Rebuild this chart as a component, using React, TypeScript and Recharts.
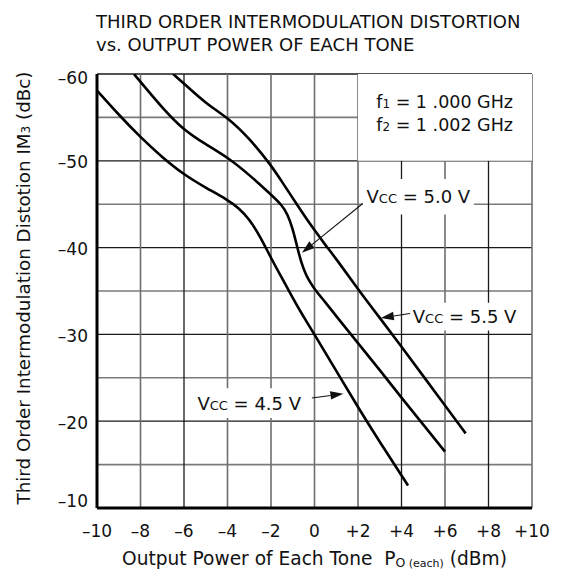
import React from 'react';
import {
  LineChart,
  Line,
  XAxis,
  YAxis,
  CartesianGrid,
  ReferenceArea,
  ReferenceLine,
} from 'recharts';

const FONT = '"DejaVu Sans", Verdana, sans-serif';

// ---- text ----
const titleLines = ['THIRD ORDER INTERMODULATION DISTORTION', 'vs. OUTPUT POWER OF EACH TONE'];

// ---- axes ----
const xTicks = [-10, -8, -6, -4, -2, 0, 2, 4, 6, 8, 10];
const yTicks = [-60, -55, -50, -45, -40, -35, -30, -25, -20, -15, -10];

// ---- series (output power per tone, dBm -> IM3, dBc) ----
const vcc45Power = [-10, -9, -8, -7, -6, -5, -4, -3.5, -3, -2.5, -2, -1.5, -1, -0.5, 0, 1, 2, 3, 4.3];
const vcc45IM3 = [-58.1, -55.3, -52.7, -50.4, -48.4, -46.9, -45.5, -44.6, -43.3, -41.3, -38.8, -36.5, -34.2, -32.0, -30.0, -25.8, -21.6, -17.6, -12.6];

const vcc50Power = [-8.3, -8, -7, -6, -5, -4, -3, -2, -1.5, -1.25, -1, -0.8, -0.6, -0.4, -0.2, 0, 0.5, 1, 2, 3, 4, 5, 6];
const vcc50IM3 = [-60, -59.1, -56.1, -53.5, -51.9, -50.4, -48.4, -46.1, -44.9, -43.9, -42.2, -40.1, -38.2, -36.9, -36.0, -35.2, -33.7, -32.1, -29.0, -25.9, -22.7, -19.6, -16.5];

const vcc55Power = [-6.5, -6, -5, -4, -3, -2, -1.5, -1, -0.5, 0, 0.5, 1, 2, 3, 4, 5, 6, 6.95];
const vcc55IM3 = [-60, -58.9, -56.6, -55.0, -52.6, -49.5, -47.6, -45.7, -43.8, -42.0, -40.3, -38.7, -35.2, -31.9, -28.6, -25.2, -21.8, -18.6];

// ---- annotations (data coordinates) ----
const freqLines = [
  { sub: '1', rest: ' = 1 .000 GHz' },
  { sub: '2', rest: ' = 1 .002 GHz' },
];
const freqBox = { x1: 2, x2: 10, y1: -60, y2: -50 };

const vccNotes = [
  { value: '5.0 V', box: { x1: 2.22, x2: 7.33, y1: -47.9, y2: -43.8 }, from: { x: 2.22, y: -45.08 }, to: { x: -0.58, y: -39.4 } },
  { value: '5.5 V', box: { x1: 4.35, x2: 9.45, y1: -33.65, y2: -30.45 }, from: { x: 4.39, y: -32.4 }, to: { x: 3.05, y: -31.9 } },
  { value: '4.5 V', box: { x1: -5.62, x2: -0.38, y1: -23.8, y2: -20.37 }, from: { x: -0.12, y: -22.67 }, to: { x: 1.33, y: -23.17 } },
];

const darkVerticals = [-6, 4, 8];

const toRows = (px: number[], py: number[]) => px.map((p, i) => ({ p, im: py[i] }));
const series = [
  { name: 'Vcc = 4.5 V', data: toRows(vcc45Power, vcc45IM3) },
  { name: 'Vcc = 5.0 V', data: toRows(vcc50Power, vcc50IM3) },
  { name: 'Vcc = 5.5 V', data: toRows(vcc55Power, vcc55IM3) },
];

const fmt = (v: number) => (v > 0 ? `+${v}` : v < 0 ? `\u2013${Math.abs(v)}` : '0');

const XTick = (props: any) => {
  const { x, y, payload } = props;
  return (
    <text x={x} y={y + 29} textAnchor="middle" fontSize={17} fontFamily={FONT} fill="#111">
      {fmt(payload.value)}
    </text>
  );
};

const YTick = (props: any) => {
  const { x, y, payload } = props;
  const v = payload.value;
  if (v % 10 !== 0) return <g />;
  const dy = v === -60 ? 9.7 : v === -10 ? -1.3 : 7.5;
  return (
    <text x={x - 9} y={y + dy} textAnchor="end" fontSize={17} fontFamily={FONT} fill="#111">
      {fmt(v)}
    </text>
  );
};

const hLine = (p: any) => (
  <line
    key={`h-${p.index}`}
    x1={p.x1}
    y1={p.y1}
    x2={p.x2}
    y2={p.y2}
    stroke={p.index % 2 === 0 ? '#1a1a1a' : '#7a7a7a'}
    strokeWidth={p.index % 2 === 0 ? 1.3 : 1.6}
  />
);

const vLine = (p: any) => {
  const dark = darkVerticals.includes(xTicks[p.index]);
  return (
    <line
      key={`v-${p.index}`}
      x1={p.x1}
      y1={p.y1}
      x2={p.x2}
      y2={p.y2}
      stroke={dark ? '#1a1a1a' : '#6e6e6e'}
      strokeWidth={dark ? 1.3 : 1.6}
    />
  );
};

const arrowShape = (p: any) => {
  const { x1, y1, x2, y2 } = p;
  const dx = x2 - x1;
  const dy = y2 - y1;
  const len = Math.sqrt(dx * dx + dy * dy) || 1;
  const ux = dx / len;
  const uy = dy / len;
  const hl = 13;
  const hw = 4.2;
  const bx = x2 - ux * hl;
  const by = y2 - uy * hl;
  const pts = `${x2},${y2} ${bx - uy * hw},${by + ux * hw} ${bx + uy * hw},${by - ux * hw}`;
  return (
    <g>
      <line x1={x1} y1={y1} x2={bx} y2={by} stroke="#111" strokeWidth={1.1} />
      <polygon points={pts} fill="#111" />
    </g>
  );
};

const vccLabel = (value: string) => (props: any) => {
  const vb = props.viewBox || {};
  const cx = vb.x + vb.width / 2;
  const cy = vb.y + vb.height / 2;
  return (
    <text x={cx} y={cy + 6.6} textAnchor="middle" fontSize={18} fontFamily={FONT} fill="#111">
      <tspan>V</tspan>
      <tspan fontSize={13}>CC</tspan>
      <tspan>{` = ${value}`}</tspan>
    </text>
  );
};

const freqLabel = (props: any) => {
  const vb = props.viewBox || {};
  const right = vb.x + vb.width - 19;
  return (
    <g>
      {freqLines.map((l, i) => (
        <text key={i} x={right} y={vb.y + 34.3 + i * 22.4} textAnchor="end" fontSize={17.5} fontFamily={FONT} fill="#111">
          <tspan>f</tspan>
          <tspan fontSize={12}>{l.sub}</tspan>
          <tspan>{l.rest}</tspan>
        </text>
      ))}
    </g>
  );
};

const xAxisLabel = (props: any) => {
  const vb = props.viewBox || {};
  const cx = vb.x + vb.width / 2;
  return (
    <text
      x={cx}
      y={vb.y + 57}
      textAnchor="middle"
      fontSize={18.6}
      fontFamily={FONT}
      fill="#111"
      xmlSpace="preserve"
      style={{ whiteSpace: 'pre' }}
    >
      <tspan>Output Power of Each Tone  P</tspan>
      <tspan fontSize={12.5} dy={1.5}>O</tspan>
      <tspan fontSize={11}> (each)</tspan>
      <tspan dy={-1.5}> (dBm)</tspan>
    </text>
  );
};

const yAxisLabel = (props: any) => {
  const vb = props.viewBox || {};
  const x = vb.x + 29.5;
  const y = vb.y + vb.height / 2 - 3;
  return (
    <text
      x={x}
      y={y}
      transform={`rotate(-90 ${x} ${y})`}
      textAnchor="middle"
      fontSize={18.3}
      fontFamily={FONT}
      fill="#111"
    >
      <tspan>Third Order Intermodulation Distotion IM</tspan>
      <tspan fontSize={12}>3</tspan>
      <tspan> (dBc)</tspan>
    </text>
  );
};

const border = { stroke: '#000', strokeWidth: 3 };

export default function App() {
  return (
    <div style={{ position: 'absolute', left: 0, top: 0, width: 562, height: 573, background: '#fff' }}>
      <div
        style={{
          position: 'absolute',
          left: 96,
          top: 9.6,
          fontFamily: FONT,
          fontSize: 18,
          lineHeight: '23px',
          color: '#111',
          whiteSpace: 'pre',
        }}
      >
        {titleLines.map((t, i) => (
          <div key={i}>{t}</div>
        ))}
      </div>
      <LineChart width={562} height={573} margin={{ top: 74, right: 30, bottom: 0, left: 0 }}>
        <CartesianGrid horizontal={hLine} vertical={vLine} />
        <ReferenceArea {...freqBox} fill="#fff" fillOpacity={1} stroke="none" label={freqLabel} />
        {vccNotes.map((n) => (
          <ReferenceArea key={`box-${n.value}`} {...n.box} fill="#fff" fillOpacity={1} stroke="none" label={vccLabel(n.value)} />
        ))}
        {series.map((s) => (
          <Line
            key={s.name}
            name={s.name}
            data={s.data}
            dataKey="im"
            type="basis"
            stroke="#000"
            strokeWidth={2.6}
            dot={false}
            activeDot={false}
            isAnimationActive={false}
          />
        ))}
        {vccNotes.map((n) => (
          <ReferenceLine key={`arrow-${n.value}`} segment={[n.from, n.to]} shape={arrowShape} />
        ))}
        <XAxis
          dataKey="p"
          type="number"
          domain={[-10, 10]}
          ticks={xTicks}
          allowDataOverflow
          height={65}
          tickSize={0}
          tickMargin={0}
          tickLine={false}
          axisLine={border}
          tick={XTick}
          interval={0}
          label={xAxisLabel}
        />
        <YAxis
          type="number"
          domain={[-60, -10]}
          ticks={yTicks}
          reversed
          allowDataOverflow
          width={97}
          tickSize={0}
          tickMargin={0}
          tickLine={false}
          axisLine={border}
          tick={YTick}
          interval={0}
          label={yAxisLabel}
        />
        <XAxis
          xAxisId="top"
          orientation="top"
          type="number"
          domain={[-10, 10]}
          allowDataOverflow
          height={0}
          tick={false}
          tickLine={false}
          axisLine={border}
        />
        <YAxis
          yAxisId="right"
          orientation="right"
          type="number"
          domain={[-60, -10]}
          allowDataOverflow
          width={0}
          tick={false}
          tickLine={false}
          axisLine={border}
        />
      </LineChart>
    </div>
  );
}
